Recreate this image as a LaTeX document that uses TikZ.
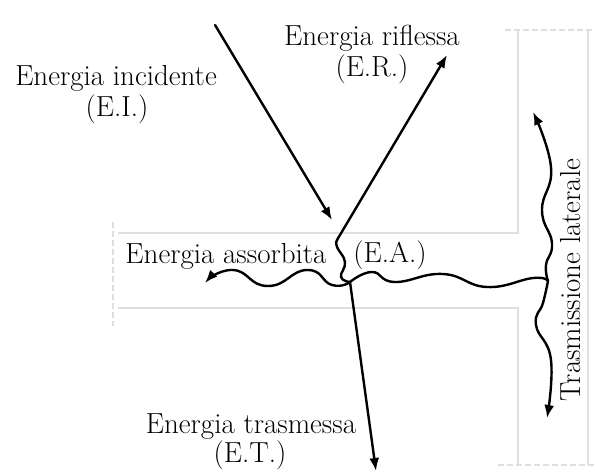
\documentclass[tikz,border=0pt]{standalone}
\usepackage{tikz}
\usetikzlibrary{arrows.meta,positioning,calc}
\begin{document}
\begin{tikzpicture}[x=1pt,y=-1pt,
  wall/.style={line width=2pt,gray!25},
  cut/.style={wall,dash pattern=on 6pt off 3pt},
  ray/.style={-{Latex[length=13pt,width=10pt]},line width=2.4pt,line cap=round},
  wave/.style={line width=2.4pt,line cap=round},
  txt/.style={font=\fontsize{29}{33}\selectfont,inner sep=0pt}
]
\useasboundingbox (0,0) rectangle (595,474);
\draw[wall] (118,233) -- (518,233) -- (518,30);
\draw[wall] (118,308) -- (518,308) -- (518,465);
\draw[wall] (588,30) -- (588,465);
\draw[cut] (113,222) -- (113,326);
\draw[cut] (505,30) -- (593,30);
\draw[cut] (498,465) -- (595,465);
\coordinate (ei0) at (215,25);
\coordinate (hit) at (332,220);
\coordinate (kink) at (337,240);
\coordinate (ertip) at (447,55);
\coordinate (J) at (350,282);
\coordinate (eatip) at (205,283);
\coordinate (side) at (548,281);
\coordinate (tltop) at (533,112);
\coordinate (tlbot) at (547,418);
\coordinate (ettip) at (376,471);
\draw[ray] (ei0) -- (hit);
\draw[wave] plot[smooth,tension=0.8] coordinates {(J) (341,277) (345,262) (337,247) (kink)};
\draw[ray] (kink) -- (ertip);
\draw[ray] plot[smooth,tension=0.9] coordinates {(J) (332,285) (307,270) (268,286) (233,270) (eatip)};
\draw[wave] plot[smooth,tension=0.8] coordinates {(J) (372,272) (395,282) (443,274) (487,287) (533,278) (side)};
\draw[ray] plot[smooth,tension=0.8] coordinates {(side) (546,265) (552,243) (542,210) (551,167) (tltop)};
\draw[ray] plot[smooth,tension=0.8] coordinates {(side) (543,303) (536,325) (551,360) (tlbot)};
\draw[ray] (J) -- (ettip);
\node[txt,anchor=base] (ei) at (116,85) {Energia incidente};
\node[txt,anchor=base] (eiab) at (117,116) {(E.I.)};
\node[txt,anchor=base] (er) at (372,45) {Energia riflessa};
\node[txt,anchor=base] (erab) at (372,76) {(E.R.)};
\node[txt,anchor=base] (ea) at (226,263) {Energia assorbita};
\node[txt,anchor=base] (eaab) at (390,262) {(E.A.)};
\node[txt,anchor=base] (et) at (251,433) {Energia trasmessa};
\node[txt,anchor=base] (etab) at (250,462) {(E.T.)};
\node[txt,rotate=90] (tl) at (571,280) {Trasmissione laterale};
\end{tikzpicture}
\end{document}
